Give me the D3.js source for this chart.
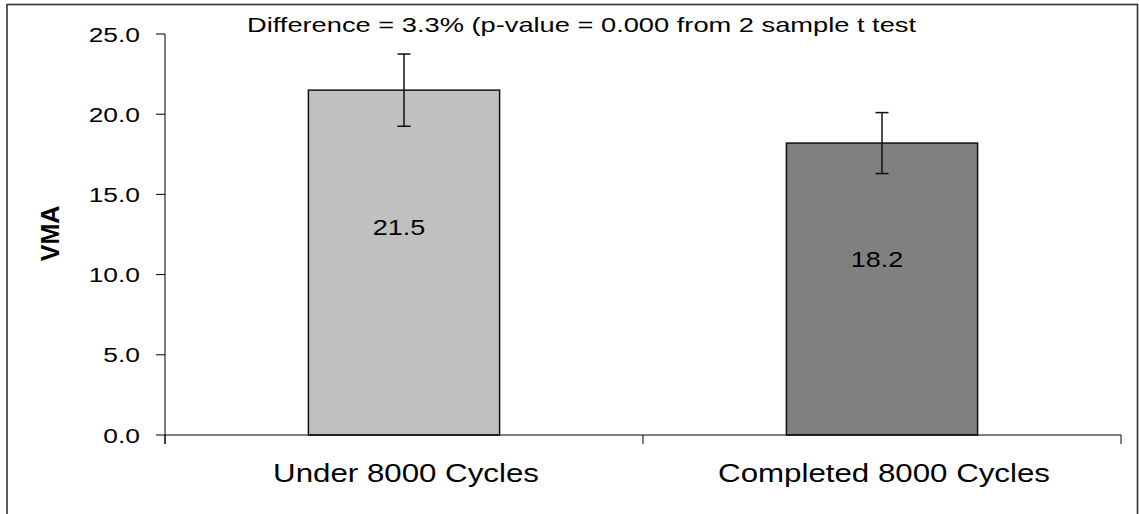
<!DOCTYPE html>
<html>
<head>
<meta charset="utf-8">
<script src="https://cdn.jsdelivr.net/npm/d3@7"></script>
<style>
  html, body { margin: 0; padding: 0; background: #fff; }
  svg { display: block; }
  text { font-family: "Liberation Sans", Arial, sans-serif; fill: #000; }
</style>
</head>
<body>
<svg id="chart" width="1139" height="514"></svg>
<script>
// VMA means by cycle group, with error bar half-widths
const categories = ["Under 8000 Cycles", "Completed 8000 Cycles"];
const vmaMeans = [21.5, 18.2];
const vmaErrors = [2.25, 1.9];
const barColors = ["#c0c0c0", "#808080"];
const yTicks = [0, 5, 10, 15, 20, 25];
const note = "Difference = 3.3% (p-value = 0.000 from 2 sample t test";
const yTitle = "VMA";

const W = 1139, H = 514;
const margin = { left: 165, right: 18, top: 34, bottom: 79 };
const svg = d3.select("#chart");

// text is drawn wider than tall, like a horizontally stretched export
function stretchedText(parent, x, y, str, size, anchor, sx, weight) {
  const g = parent.append("g").attr("transform", `translate(${x},${y}) scale(${sx},1)`);
  g.append("text")
    .attr("text-anchor", anchor)
    .attr("font-size", size)
    .attr("font-weight", weight || "normal")
    .text(str);
  return g;
}

// outer frame
svg.append("rect")
  .attr("x", 7).attr("y", 4.5)
  .attr("width", 1130.5).attr("height", 520)
  .attr("fill", "none").attr("stroke", "#333").attr("stroke-width", 1.6);

const x = d3.scaleBand()
  .domain(categories)
  .range([margin.left, W - margin.right])
  .paddingInner(0.6)
  .paddingOuter(0.3);

const y = d3.scaleLinear()
  .domain([0, 25])
  .range([H - margin.bottom, margin.top]);

const x0 = margin.left, x1 = W - margin.right;
const y0 = y(0);
const center = c => x(c) + x.bandwidth() / 2;

// bars
svg.selectAll("rect.bar")
  .data(categories)
  .join("rect")
  .attr("class", "bar")
  .attr("x", d => x(d))
  .attr("width", x.bandwidth())
  .attr("y", (d, i) => y(vmaMeans[i]))
  .attr("height", (d, i) => y0 - y(vmaMeans[i]))
  .attr("fill", (d, i) => barColors[i])
  .attr("stroke", "#111")
  .attr("stroke-width", 1.5);

// error bars
const eb = svg.append("g").attr("stroke", "#111").attr("stroke-width", 1.5);
categories.forEach((c, i) => {
  const cx = center(c);
  const hi = y(vmaMeans[i] + vmaErrors[i]);
  const lo = y(vmaMeans[i] - vmaErrors[i]);
  eb.append("line").attr("x1", cx).attr("x2", cx).attr("y1", hi).attr("y2", lo);
  eb.append("line").attr("x1", cx - 6.5).attr("x2", cx + 6.5).attr("y1", hi).attr("y2", hi);
  eb.append("line").attr("x1", cx - 6.5).attr("x2", cx + 6.5).attr("y1", lo).attr("y2", lo);
});

// value labels inside the bars
categories.forEach((c, i) => {
  stretchedText(svg, center(c) - 5, y(vmaMeans[i] * 0.6) + 7, vmaMeans[i].toFixed(1), 22.5, "middle", 1.2);
});

// y axis
const ax = svg.append("g").attr("stroke", "#000").attr("stroke-width", 1);
ax.append("line").attr("x1", x0).attr("x2", x0).attr("y1", y(25)).attr("y2", y0 + 9);
yTicks.forEach(t => {
  ax.append("line").attr("x1", x0 - 9).attr("x2", x0).attr("y1", y(t)).attr("y2", y(t));
  stretchedText(svg, 140, y(t) + 7.5, t.toFixed(1), 20, "end", 1.32);
});

// x axis with ticks at the ends and between the categories
ax.append("line").attr("x1", x0).attr("x2", x1).attr("y1", y0).attr("y2", y0);
const mid = (center(categories[0]) + center(categories[1])) / 2;
[x0, mid, x1].forEach(bx => {
  ax.append("line").attr("x1", bx).attr("x2", bx).attr("y1", y0).attr("y2", y0 + 9);
});

// category labels
categories.forEach(c => {
  stretchedText(svg, center(c) + 2, 482, c, 26.5, "middle", 1.18);
});

// y axis title
svg.append("g")
  .attr("transform", "translate(59,233.5) rotate(-90) scale(1,1.05)")
  .append("text")
  .attr("text-anchor", "middle")
  .attr("font-size", 25)
  .attr("font-weight", "bold")
  .text(yTitle);

// note at the top
stretchedText(svg, 247, 32, note, 20.5, "start", 1.33);
</script>
</body>
</html>
